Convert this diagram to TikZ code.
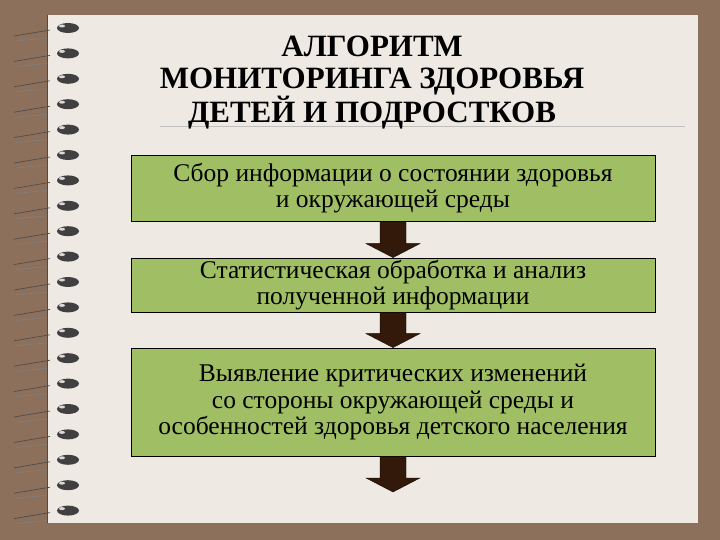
\documentclass[tikz,border=0pt]{standalone}
\usepackage{fontspec}
\usetikzlibrary{calc}
\setmainfont{Liberation Serif}
\begin{document}
\begin{tikzpicture}[x=1pt,y=-1pt,
  box/.style={draw=black,line width=0.8pt,fill=boxg,inner sep=0pt,align=center,font=\fontsize{25.5}{26.5}\selectfont},
  darr/.style={fill=arrd,draw=black,line width=0.3pt}]
\definecolor{bg}{RGB}{141,112,92}
\definecolor{paper}{RGB}{238,233,227}
\definecolor{boxg}{RGB}{160,190,100}
\definecolor{arrd}{RGB}{50,25,10}
\fill[bg] (0,0) rectangle (720,540);
\fill[paper] (47,15) rectangle (698,523);
\draw[line width=0.8pt,black!70] (47,15) -- (47,523);
\draw[line width=0.6pt,black!25] (160,126) -- (685,126);
\foreach \i in {0,...,19}{
  \pgfmathsetmacro{\yy}{28+25.4*\i}
  \draw[black!70,line width=0.7pt] (14,\yy+8) -- (50,\yy+2);
  \draw[black!50,line width=0.6pt] (16,\yy+13) -- (47,\yy+10);
  \fill[black!75] (68,\yy) ellipse (11 and 5);
  \fill[white!70!gray] (62,\yy-2) ellipse (3 and 1.5);
}
\node[font=\bfseries\fontsize{31}{32}\selectfont,align=center] (title) at (372,83) {АЛГОРИТМ\\МОНИТОРИНГА ЗДОРОВЬЯ\\ДЕТЕЙ И ПОДРОСТКОВ};
\node[box,minimum width=524,minimum height=66] (b1) at (393,188) {Сбор информации о состоянии здоровья\\и окружающей среды};
\node[box,minimum width=524,minimum height=54] (b2) at (393,285) {Статистическая обработка и анализ\\полученной информации};
\node[box,minimum width=524,minimum height=108] (b3) at (393,402) {Выявление критических изменений\\со стороны окружающей среды и\\особенностей здоровья детского населения};
\coordinate (e) at (393,492);
\foreach \a/\b in {b1/b2,b2/b3,b3/e}{
  \path[darr] (\a.south) ++(-13,0) -- ++(26,0) |- ($(\b.north)+(13,-14)$) -- ++(14,0) -- (\b.north) -- ++(-27,-14) -- ++(14,0) -- cycle;
}
\end{tikzpicture}
\end{document}
